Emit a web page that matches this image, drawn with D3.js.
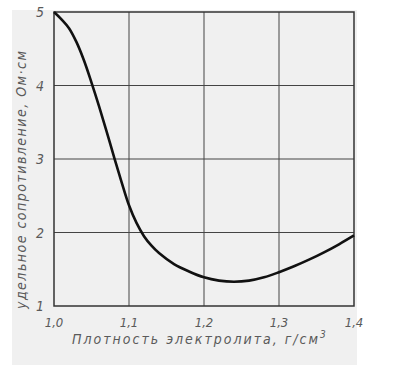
<!DOCTYPE html>
<html>
<head>
<meta charset="utf-8">
<script src="https://cdn.jsdelivr.net/npm/d3@7"></script>
<style>
body { margin: 0; background: #fff; }
text { font-family: "DejaVu Sans Condensed", "DejaVu Sans", sans-serif; font-style: italic; fill: #5a5a5a; }
</style>
</head>
<body>
<div id="chart"></div>
<script>
var width = 400, height = 373;

// плотность электролита, г/см3
var density = [1.00, 1.01, 1.02, 1.03, 1.04, 1.05, 1.06, 1.07, 1.08, 1.09,
	1.10, 1.11, 1.12, 1.13, 1.14, 1.16, 1.18, 1.20, 1.22, 1.24,
	1.26, 1.28, 1.30, 1.32, 1.34, 1.36, 1.38, 1.40];
// удельное сопротивление, Ом·см
var resistance = [5.00, 4.90, 4.78, 4.59, 4.34, 4.04, 3.72, 3.38, 3.03, 2.69,
	2.37, 2.13, 1.95, 1.82, 1.72, 1.57, 1.47, 1.39, 1.345, 1.33,
	1.345, 1.39, 1.46, 1.54, 1.63, 1.73, 1.84, 1.96];

var xTicks = [1.0, 1.1, 1.2, 1.3, 1.4];
var yTicks = [1, 2, 3, 4, 5];

var margin = {left: 54, top: 12, right: 46, bottom: 67};

var svg = d3.select("#chart").append("svg")
	.attr("width", width)
	.attr("height", height);

// scanned paper
svg.append("rect")
	.attr("x", 12).attr("y", 10)
	.attr("width", 345).attr("height", 355)
	.attr("fill", "#f0f0f0");

var x = d3.scaleLinear().domain([1.0, 1.4]).range([margin.left, width - margin.right]);
var y = d3.scaleLinear().domain([1, 5]).range([height - margin.bottom, margin.top]);

var fmt = function(d){ return d3.format(".1f")(d).replace(".", ","); };

// grid
svg.append("g")
	.selectAll("line")
	.data(xTicks.slice(1, -1))
	.enter().append("line")
		.attr("x1", function(d){ return x(d); })
		.attr("x2", function(d){ return x(d); })
		.attr("y1", y(1)).attr("y2", y(5))
		.attr("stroke", "#444").attr("stroke-width", 1);

svg.append("g")
	.selectAll("line")
	.data(yTicks.slice(1, -1))
	.enter().append("line")
		.attr("y1", function(d){ return y(d); })
		.attr("y2", function(d){ return y(d); })
		.attr("x1", x(1.0)).attr("x2", x(1.4))
		.attr("stroke", "#444").attr("stroke-width", 1);

// frame
svg.append("rect")
	.attr("x", x(1.0)).attr("y", y(5))
	.attr("width", x(1.4) - x(1.0))
	.attr("height", y(1) - y(5))
	.attr("fill", "none")
	.attr("stroke", "#333").attr("stroke-width", 1.5);

// tick labels
svg.append("g")
	.selectAll("text")
	.data(xTicks)
	.enter().append("text")
		.attr("x", function(d){ return x(d); })
		.attr("y", 327)
		.attr("text-anchor", "middle")
		.style("font-size", "13px")
		.text(fmt);

svg.append("g")
	.selectAll("text")
	.data(yTicks)
	.enter().append("text")
		.attr("x", 44)
		.attr("y", function(d){ return y(d) + 5; })
		.attr("text-anchor", "end")
		.style("font-size", "14px")
		.text(function(d){ return d; });

// axis titles
svg.append("text")
	.attr("transform", "translate(26, 180) rotate(-90)")
	.attr("text-anchor", "middle")
	.attr("textLength", 258)
	.attr("lengthAdjust", "spacing")
	.style("font-size", "14px")
	.text("удельное сопротивление, Ом·см");

svg.append("text")
	.attr("x", 72)
	.attr("y", 344)
	.attr("textLength", 246)
	.attr("lengthAdjust", "spacing")
	.style("font-size", "14px")
	.text("Плотность электролита, г/см");
svg.append("text")
	.attr("x", 320)
	.attr("y", 338)
	.style("font-size", "10px")
	.text("3");

// curve
var line = d3.line()
	.x(function(d, i){ return x(density[i]); })
	.y(function(d){ return y(d); })
	.curve(d3.curveCatmullRom.alpha(0.5));

svg.append("path")
	.datum(resistance)
	.attr("d", line)
	.attr("fill", "none")
	.attr("stroke", "#111")
	.attr("stroke-width", 2.6);
</script>
</body>
</html>
